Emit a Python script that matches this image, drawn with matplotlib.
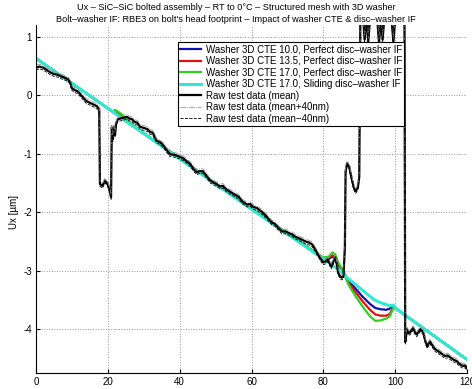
import matplotlib
matplotlib.use("Agg")
import matplotlib.pyplot as plt
import numpy as np

plt.rcParams['font.family'] = ['Liberation Sans', 'DejaVu Sans']

# raw test data (mean)
x_raw = [0, 1, 2, 3, 4, 5, 6, 7, 8, 9, 9.5, 10, 11, 11.5, 12, 13, 14, 15, 16, 17, 17.6,
         17.8, 18.5, 19.2, 20, 20.6, 20.9, 21.1, 21.4, 21.7, 22.0, 22.3, 22.8, 24, 25.3,
         26, 26.7, 27.5, 28.2, 29, 30, 31, 31.8, 32.5, 33.6, 34.5, 35.5, 36.3, 37.3, 38.5,
         40, 41, 42, 43, 44, 44.8, 45.5, 46.5, 47.5, 48.5, 49.3, 50.2, 51.2, 52, 53, 54,
         55.4, 56.5, 57.5, 58.8, 59.6, 60.5, 61.5, 63, 64, 65, 65.7, 66.5, 67.5, 68.5,
         69.5, 70.5, 71.3, 72.2, 73, 74, 75, 76, 76.9, 77.7, 78.5, 79.3, 80, 80.7, 81.3,
         82.2, 82.8, 83.3, 83.8, 84.1, 84.7, 85.2, 85.6, 86.0, 86.2, 86.6, 87.2, 87.8,
         88.5, 89.0, 89.6, 90.0, 90.3, 91, 91.5, 92, 92.5, 93, 94, 95, 95.5, 96, 96.5, 97,
         98, 99, 99.5, 100, 101, 102, 102.6, 102.8, 103.3, 103.8, 104.2, 105, 105.5, 106,
         107, 107.8, 108.4, 108.9, 109.7, 110.4, 111.1, 111.8, 112.5, 113.2, 113.9, 114.6,
         115.3, 116.2, 117.2, 118, 118.9, 119.5, 120]
y_raw = [0.47, 0.49, 0.47, 0.43, 0.39, 0.36, 0.35, 0.32, 0.30, 0.27, 0.22, 0.12, 0.08, 0.07,
         0.04, -0.03, -0.10, -0.13, -0.16, -0.19, -0.24,
         -1.52, -1.55, -1.46, -1.52, -1.65, -1.74, -0.55, -0.75, -0.55, -0.68, -0.48, -0.41,
         -0.39, -0.37, -0.40, -0.41, -0.46, -0.47, -0.54, -0.56, -0.58, -0.63, -0.64, -0.78,
         -0.80, -0.86, -0.93, -1.01, -1.02, -1.05, -1.08, -1.13, -1.18, -1.27, -1.32, -1.30,
         -1.30, -1.38, -1.46, -1.49, -1.52, -1.56, -1.55, -1.61, -1.65, -1.70, -1.74, -1.82,
         -1.87, -1.86, -1.91, -1.93, -2.00, -2.06, -2.13, -2.18, -2.20, -2.27, -2.33, -2.33,
         -2.36, -2.38, -2.42, -2.44, -2.47, -2.50, -2.52, -2.55, -2.63, -2.72, -2.80, -2.86,
         -2.84, -2.81, -2.93, -2.84, -2.77, -2.90, -3.03, -3.10, -3.12, -3.09, -2.60, -1.30,
         -1.17, -1.22, -1.40, -1.58, -1.64, -1.58, -1.40, 1.25, 1.40, 0.95, 1.35, 0.92, 1.30,
         1.45, 1.30, 0.90, 1.30, 0.95, 1.35, 1.40, 1.30, 0.92, 1.30, 1.38, 1.30, 1.20,
         -4.22, -4.00, -4.07, -4.05, -3.98, -4.05, -4.09, -4.00, -4.05, -4.20, -4.29, -4.21,
         -4.28, -4.34, -4.37, -4.40, -4.43, -4.46, -4.45, -4.48, -4.52, -4.55, -4.60, -4.63,
         -4.62, -4.67]
scatter_band = 0.04  # +/- 40 nm

# FE model results
x_mod = [0, 22, 22.01, 24, 26, 28, 40, 60, 80, 81.5, 82.5, 83.3, 84, 85.2, 87, 89, 91, 93,
         94.5, 96, 97.5, 98.5, 99.5, 100.5, 110, 120]
y_cte10 = [0.63, -0.31, -0.28, -0.36, -0.48, -0.57, -1.08, -1.94, -2.79, -2.80, -2.76, -2.80,
           -2.89, -2.98, -3.17, -3.31, -3.45, -3.57, -3.64, -3.66, -3.67, -3.65, -3.60, -3.66,
           -4.08, -4.52]
y_cte135 = [0.63, -0.31, -0.27, -0.35, -0.47, -0.56, -1.08, -1.94, -2.78, -2.78, -2.74, -2.77,
            -2.86, -2.98, -3.20, -3.37, -3.53, -3.67, -3.75, -3.77, -3.77, -3.74, -3.62, -3.66,
            -4.08, -4.52]
y_cte17 = [0.63, -0.31, -0.25, -0.33, -0.46, -0.56, -1.08, -1.94, -2.78, -2.76, -2.69, -2.72,
           -2.84, -2.98, -3.24, -3.44, -3.62, -3.78, -3.86, -3.85, -3.82, -3.78, -3.64, -3.66,
           -4.08, -4.52]
y_slide = [0.63, -0.31, -0.31, -0.40, -0.49, -0.57, -1.09, -1.95, -2.80, -2.86, -2.91, -2.94,
           -2.97, -3.03, -3.14, -3.24, -3.34, -3.44, -3.51, -3.55, -3.58, -3.60, -3.59, -3.66,
           -4.08, -4.52]

labels = ["Washer 3D CTE 10.0, Perfect disc\u2013washer IF",
          "Washer 3D CTE 13.5, Perfect disc\u2013washer IF",
          "Washer 3D CTE 17.0, Perfect disc\u2013washer IF",
          "Washer 3D CTE 17.0, Sliding disc\u2013washer IF",
          "Raw test data (mean)",
          "Raw test data (mean+40nm)",
          "Raw test data (mean\u221240nm)"]

fig = plt.figure(figsize=(4.72, 3.89), dpi=100)
ax = fig.add_axes([36/472, 16/389, 431/472, 348/389])

y_raw = np.array(y_raw)
ax.plot(x_mod, y_cte10, color="#1010b0", lw=1.6, label=labels[0])
ax.plot(x_mod, y_cte135, color="#e01010", lw=1.6, label=labels[1])
ax.plot(x_mod, y_cte17, color="#30d020", lw=1.6, label=labels[2])
ax.plot(x_mod, y_slide, color="#30e8d0", lw=2.2, label=labels[3])
ax.plot(x_raw, y_raw, color="black", lw=1.6, label=labels[4])
ax.plot(x_raw, y_raw + scatter_band, color="#909090", lw=0.6, ls="-.", label=labels[5])
ax.plot(x_raw, y_raw - scatter_band, color="black", lw=0.6, ls="--", label=labels[6])

ax.set_xlim(0, 120)
ax.set_ylim(-4.75, 1.2)
ax.set_xticks(range(0, 121, 20))
ax.set_yticks([-4, -3, -2, -1, 0, 1])
ax.set_yticklabels(["-4", "-3", "-2", "-1", "0", "1"])
ax.grid(True, ls=":", color="#9a9a9a", lw=0.7)
ax.tick_params(direction="in", labelsize=7, length=3, pad=3)
for s in ["top", "right"]:
    ax.spines[s].set_visible(False)
for s in ["left", "bottom"]:
    ax.spines[s].set_linewidth(0.8)

leg = ax.legend(loc="upper left", bbox_to_anchor=((178-36)/431, (373-42)/348),
                fontsize=7, frameon=True, fancybox=False, framealpha=1,
                edgecolor="black", handlelength=2.1, handletextpad=0.5,
                labelspacing=0.16, borderpad=0.25, borderaxespad=0)
leg.get_frame().set_linewidth(0.8)

fig.text(14/472, 1 - 212/389, "Ux [\u00b5m]", rotation=90, fontsize=7,
         ha="center", va="center")
fig.text(0.5, 1 - 8/389, "Ux \u2013 SiC\u2013SiC bolted assembly \u2013 RT to 0\u00b0C \u2013 "
         "Structured mesh with 3D washer", fontsize=6.6, ha="center", va="center")
fig.text(0.5, 1 - 19/389, "Bolt\u2013washer IF: RBE3 on bolt's head footprint \u2013 "
         "Impact of washer CTE & disc\u2013washer IF", fontsize=6.6, ha="center", va="center")

fig.savefig("out.png", dpi=100)
